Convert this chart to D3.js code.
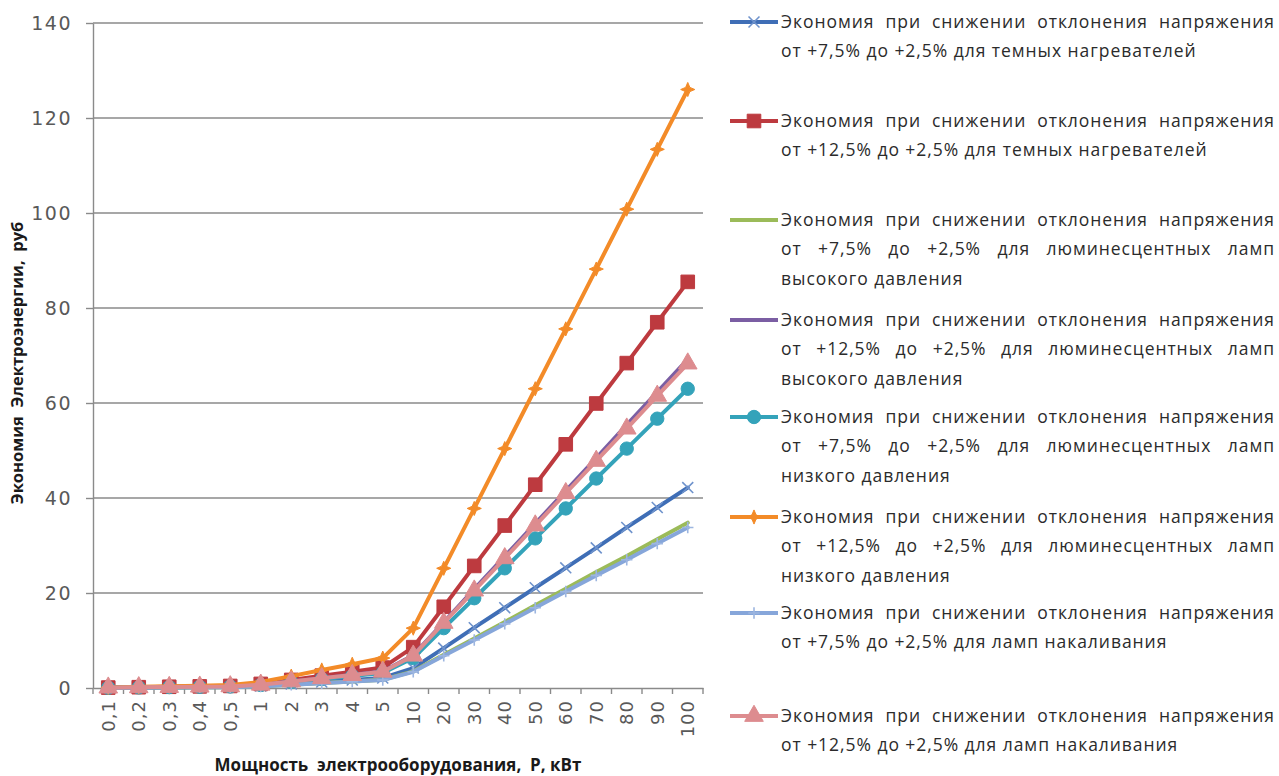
<!DOCTYPE html>
<html>
<head>
<meta charset="utf-8">
<script src="https://cdn.jsdelivr.net/npm/d3@7"></script>
<style>
  body { margin: 0; background: #fff; }
  svg { display: block; }
</style>
</head>
<body>
<svg id="chart" width="1279" height="776"></svg>
<script>
// Power of the equipment, kW (category axis)
const categories = ["0,1","0,2","0,3","0,4","0,5","1","2","3","4","5","10","20","30","40","50","60","70","80","90","100"];
const yTicks = [0, 20, 40, 60, 80, 100, 120, 140];

// Savings, rub
const darkHeaters75   = [0.04,0.08,0.13,0.17,0.21,0.42,0.84,1.27,1.69,2.11,4.2,8.4,12.7,16.9,21.1,25.3,29.5,33.8,38.0,42.2];
const darkHeaters125  = [0.09,0.17,0.26,0.34,0.43,0.86,1.7,2.6,3.4,4.3,8.6,17.1,25.7,34.2,42.8,51.3,59.9,68.4,77.0,85.5];
const hpFluor75       = [0.03,0.07,0.10,0.14,0.17,0.35,0.70,1.04,1.39,1.74,3.5,7.0,10.4,13.9,17.4,20.9,24.4,27.8,31.3,34.8];
const hpFluor125      = [0.07,0.14,0.21,0.28,0.35,0.69,1.38,2.08,2.77,3.46,6.9,13.8,20.8,27.7,34.6,41.5,48.4,55.4,62.3,69.2];
const lpFluor75       = [0.06,0.13,0.19,0.25,0.32,0.63,1.26,1.89,2.52,3.15,6.3,12.6,18.9,25.2,31.5,37.8,44.1,50.4,56.7,63.0];
const lpFluor125      = [0.13,0.25,0.38,0.50,0.63,1.26,2.5,3.8,5.0,6.3,12.6,25.2,37.8,50.4,63.0,75.6,88.2,100.8,113.4,126.0];
const incandescent75  = [0.03,0.07,0.10,0.14,0.17,0.34,0.68,1.01,1.35,1.69,3.4,6.8,10.1,13.5,16.9,20.3,23.7,27.0,30.4,33.8];
const incandescent125 = [0.07,0.14,0.20,0.27,0.34,0.68,1.37,2.05,2.73,3.42,6.8,13.7,20.5,27.3,34.2,41.0,47.8,54.6,61.5,68.3];

const seriesNames = [
  "Экономия при снижении отклонения напряжения\nот +7,5% до +2,5% для темных нагревателей",
  "Экономия при снижении отклонения напряжения\nот +12,5% до +2,5% для темных нагревателей",
  "Экономия при снижении отклонения напряжения\nот +7,5% до +2,5% для люминесцентных ламп\nвысокого давления",
  "Экономия при снижении отклонения напряжения\nот +12,5% до +2,5% для люминесцентных ламп\nвысокого давления",
  "Экономия при снижении отклонения напряжения\nот +7,5% до +2,5% для люминесцентных ламп\nнизкого давления",
  "Экономия при снижении отклонения напряжения\nот +12,5% до +2,5% для люминесцентных ламп\nнизкого давления",
  "Экономия при снижении отклонения напряжения\nот +7,5% до +2,5% для ламп накаливания",
  "Экономия при снижении отклонения напряжения\nот +12,5% до +2,5% для ламп накаливания"
];
const seriesValues = [darkHeaters75, darkHeaters125, hpFluor75, hpFluor125, lpFluor75, lpFluor125, incandescent75, incandescent125];
const seriesColors = ["#3f6eb6","#bd3a3f","#9bbb59","#7b5ea3","#34a3ba","#f38b28","#86a6da","#dd8c8f"];
const seriesMarkers = ["x","square","none","none","circle","star","plus","triangle"];

const xTitle = "Мощность  электрооборудования,  Р, кВт";
const yTitle = "Экономия  Электроэнергии,  руб";

const svg = d3.select("#chart");
const plot = { left: 93, right: 703, top: 23, bottom: 688 };

const x = d3.scaleBand().domain(categories).range([plot.left, plot.right]);
const y = d3.scaleLinear().domain([0, 140]).range([plot.bottom, plot.top]);

const gridColor = "#8a8a8a";
const tickFont = "'DejaVu Sans', Verdana, sans-serif";
const textFont = "'Open Sans', 'Noto Sans', sans-serif";

// Horizontal gridlines
svg.append("g")
  .selectAll("line")
  .data(yTicks.filter(d => d > 0))
  .join("line")
  .attr("x1", plot.left).attr("x2", plot.right)
  .attr("y1", d => y(d)).attr("y2", d => y(d))
  .attr("stroke", gridColor).attr("stroke-width", 1.4);

// Y axis
const yAxis = svg.append("g")
  .attr("transform", `translate(${plot.left},0)`)
  .call(d3.axisLeft(y).tickValues(yTicks).tickSize(7).tickSizeOuter(0).tickPadding(14).tickFormat(d3.format("d")));
yAxis.select(".domain").attr("stroke", gridColor).attr("stroke-width", 1.4);
yAxis.selectAll(".tick line").attr("stroke", gridColor).attr("stroke-width", 1.4);
yAxis.selectAll(".tick text")
  .attr("fill", "#595959")
  .style("font-family", tickFont).style("font-size", "19px").style("letter-spacing", "1.5px");

// X axis (labels rotated, ticks on category boundaries)
const xAxis = svg.append("g")
  .attr("transform", `translate(0,${plot.bottom})`)
  .call(d3.axisBottom(x).tickSize(0).tickSizeOuter(0));
xAxis.select(".domain").attr("stroke", gridColor).attr("stroke-width", 1.4);
xAxis.selectAll(".tick text")
  .attr("transform", "rotate(-90)")
  .attr("x", -12).attr("y", 0).attr("dy", "0.35em")
  .style("text-anchor", "end")
  .attr("fill", "#595959")
  .style("font-family", tickFont).style("font-size", "18px").style("letter-spacing", "1px");

const boundaries = categories.map(c => x(c)).concat([plot.right]);
svg.append("g")
  .selectAll("line")
  .data(boundaries)
  .join("line")
  .attr("x1", d => d).attr("x2", d => d)
  .attr("y1", plot.bottom).attr("y2", plot.bottom + 6)
  .attr("stroke", gridColor).attr("stroke-width", 1.4);

// Axis titles
svg.append("text")
  .attr("x", 398).attr("y", 771)
  .attr("text-anchor", "middle")
  .style("white-space", "pre")
  .style("font-family", textFont).style("font-size", "17px").style("font-weight", "bold")
  .attr("fill", "#1a1a1a")
  .text(xTitle);

svg.append("text")
  .attr("transform", "translate(23,363) rotate(-90)")
  .attr("text-anchor", "middle")
  .style("white-space", "pre")
  .style("font-family", textFont).style("font-size", "16.5px").style("font-weight", "bold")
  .attr("fill", "#1a1a1a")
  .text(yTitle);

// Marker shapes
const symX = { draw(ctx, size) { const r = Math.sqrt(size) / 2; ctx.moveTo(-r, -r); ctx.lineTo(r, r); ctx.moveTo(-r, r); ctx.lineTo(r, -r); } };
const symPlus = { draw(ctx, size) { const r = Math.sqrt(size) / 2; ctx.moveTo(0, -r); ctx.lineTo(0, r); ctx.moveTo(-r, 0); ctx.lineTo(r, 0); } };
const symStar = { draw(ctx, size) {
  const r = Math.sqrt(size) / 2, k = r * 0.3;
  ctx.moveTo(0, -r); ctx.lineTo(k, -k); ctx.lineTo(r, 0); ctx.lineTo(k, k);
  ctx.lineTo(0, r); ctx.lineTo(-k, k); ctx.lineTo(-r, 0); ctx.lineTo(-k, -k); ctx.closePath();
} };

function markerPath(kind) {
  switch (kind) {
    case "x": return d3.symbol().type(symX).size(120)();
    case "plus": return d3.symbol().type(symPlus).size(130)();
    case "square": return d3.symbol().type(d3.symbolSquare).size(185)();
    case "circle": return d3.symbol().type(d3.symbolCircle).size(140)();
    case "triangle": return d3.symbol().type(d3.symbolTriangle).size(150)();
    case "star": return d3.symbol().type(symStar).size(200)();
    default: return null;
  }
}
function markerStyle(sel, kind, color) {
  if (kind === "x" || kind === "plus") {
    sel.attr("fill", "none").attr("stroke", kind === "x" ? "#6f93cc" : "#9db6e0").attr("stroke-width", 1.6);
  } else {
    sel.attr("fill", color).attr("stroke", color).attr("stroke-width", 1);
  }
}

// Series lines and markers
const line = d3.line()
  .x((d, i) => x(categories[i]) + x.bandwidth() / 2)
  .y(d => y(d));

seriesValues.forEach((vals, si) => {
  const g = svg.append("g");
  g.append("path")
    .datum(vals)
    .attr("d", line)
    .attr("fill", "none")
    .attr("stroke", seriesColors[si])
    .attr("stroke-width", 4)
    .attr("stroke-linejoin", "round")
    .attr("stroke-linecap", "round");
  const mp = markerPath(seriesMarkers[si]);
  if (mp) {
    g.selectAll("path.m")
      .data(vals)
      .join("path")
      .attr("class", "m")
      .attr("d", mp)
      .attr("transform", (d, i) => `translate(${x(categories[i]) + x.bandwidth() / 2},${y(d)})`)
      .call(markerStyle, seriesMarkers[si], seriesColors[si]);
  }
});

// Legend
const legendRows = [22, 121, 220, 320, 417, 517, 613, 716];
const legX0 = 730, legX1 = 778, textX = 781, textW = 494, lineGap = 29.3;

function placeLine(g, str, baseline, justify) {
  const t = g.append("text")
    .attr("y", baseline)
    .style("font-family", textFont).style("font-size", "17.5px").style("letter-spacing", "0.95px")
    .attr("fill", "#2b2b2b");
  if (!justify) { t.attr("x", textX).text(str); return; }
  const words = str.split(" ");
  const spans = words.map(w => t.append("tspan").text(w));
  const widths = spans.map(s => s.node().getComputedTextLength());
  const gap = (textW - d3.sum(widths)) / (words.length - 1);
  let cx = textX;
  spans.forEach((s, i) => { s.attr("x", cx); cx += widths[i] + gap; });
}

seriesNames.forEach((name, si) => {
  const yc = legendRows[si];
  const g = svg.append("g");
  g.append("line")
    .attr("x1", legX0).attr("x2", legX1).attr("y1", yc).attr("y2", yc)
    .attr("stroke", seriesColors[si]).attr("stroke-width", 4);
  const mp = markerPath(seriesMarkers[si]);
  if (mp) {
    g.append("path").attr("d", mp)
      .attr("transform", `translate(${(legX0 + legX1) / 2},${yc})`)
      .call(markerStyle, seriesMarkers[si], seriesColors[si]);
  }
  const lines = name.split("\n");
  lines.forEach((ln, li) => placeLine(g, ln, yc + 6 + li * lineGap, li < lines.length - 1));
});
</script>
</body>
</html>
